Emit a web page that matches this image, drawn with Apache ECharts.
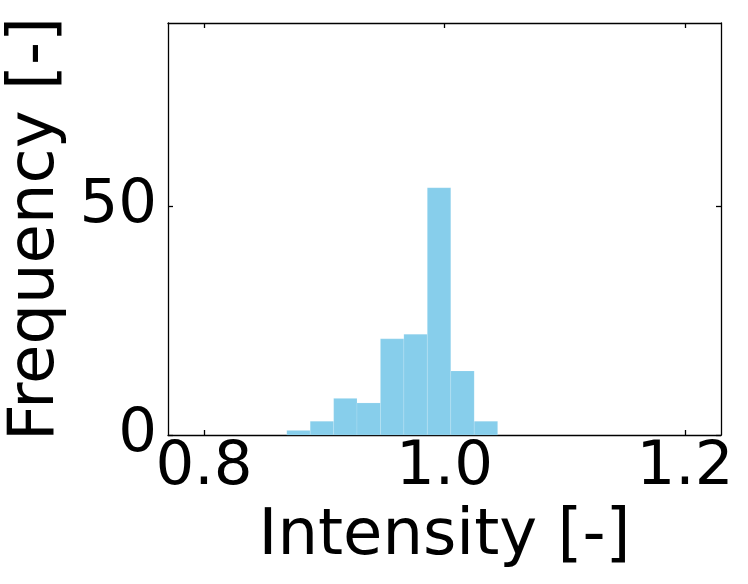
<!DOCTYPE html>
<html>
<head>
<meta charset="utf-8">
<script src="https://cdn.jsdelivr.net/npm/echarts@6/dist/echarts.min.js"></script>
<style>html,body{margin:0;padding:0;background:#fff}#c{width:748px;height:584px}</style>
</head>
<body>
<div id="c"></div>
<script>
// Histogram bin edges (Intensity) and counts
const binEdges = [0.8688, 0.8883, 0.9078, 0.9272, 0.9467, 0.9662, 0.9857, 1.0052, 1.0247, 1.0442];
const counts = [1, 3, 8, 7, 21, 22, 54, 14, 3];
const xTicks = [0.8, 1.0, 1.2];
const yTicks = [0, 50];

const font = 'DejaVu Sans';
const histData = counts.map((c, i) => [binEdges[i], binEdges[i + 1], c]);

const chart = echarts.init(document.getElementById('c'), null, {renderer: 'canvas'});
const axisLine = {show: true, onZero: false, lineStyle: {color: '#000', width: 1.3}};
const axisTick = {show: true, inside: true, length: 5, lineStyle: {color: '#000', width: 1.3}};
chart.setOption({
  animation: false,
  grid: {left: 168, right: 27, top: 23, bottom: 149, containLabel: false, outerBoundsMode: 'none'},
  xAxis: [{
    type: 'value', min: 0.77, max: 1.23, position: 'bottom',
    splitLine: {show: false}, axisLine,
    axisLabel: {
      show: true, fontFamily: font, fontSize: 61, color: '#000', margin: 3,
      customValues: xTicks, formatter: v => v.toFixed(1)
    },
    axisTick: Object.assign({}, axisTick, {customValues: xTicks}),
    name: 'Intensity [-]', nameLocation: 'middle', nameGap: 70,
    nameTextStyle: {fontFamily: font, fontSize: 64, color: '#000'}
  }, {
    type: 'value', min: 0.77, max: 1.23, position: 'top',
    splitLine: {show: false}, axisLine,
    axisTick: Object.assign({}, axisTick, {customValues: xTicks}),
    axisLabel: {show: false}
  }],
  yAxis: [{
    type: 'value', min: 0, max: 90, position: 'left',
    splitLine: {show: false}, axisLine,
    axisTick: Object.assign({}, axisTick, {customValues: yTicks}),
    axisLabel: {
      show: true, fontFamily: font, fontSize: 61, color: '#000', margin: 11,
      customValues: yTicks
    },
    name: 'Frequency [-]', nameLocation: 'middle', nameGap: 92,
    nameTextStyle: {fontFamily: font, fontSize: 64, color: '#000'}
  }, {
    type: 'value', min: 0, max: 90, position: 'right',
    splitLine: {show: false}, axisLine,
    axisTick: Object.assign({}, axisTick, {customValues: yTicks}),
    axisLabel: {show: false}
  }],
  series: [{
    type: 'custom',
    xAxisIndex: 0, yAxisIndex: 0,
    data: histData,
    encode: {x: [0, 1], y: 2},
    renderItem: function (params, api) {
      const p0 = api.coord([api.value(0), api.value(2)]);
      const p1 = api.coord([api.value(1), 0]);
      return {
        type: 'rect',
        shape: {x: p0[0], y: p0[1], width: p1[0] - p0[0], height: p1[1] - p0[1]},
        style: {fill: '#87ceeb', stroke: 'rgba(255,255,255,0.25)', lineWidth: 0.5}
      };
    }
  }]
});
</script>
</body>
</html>
